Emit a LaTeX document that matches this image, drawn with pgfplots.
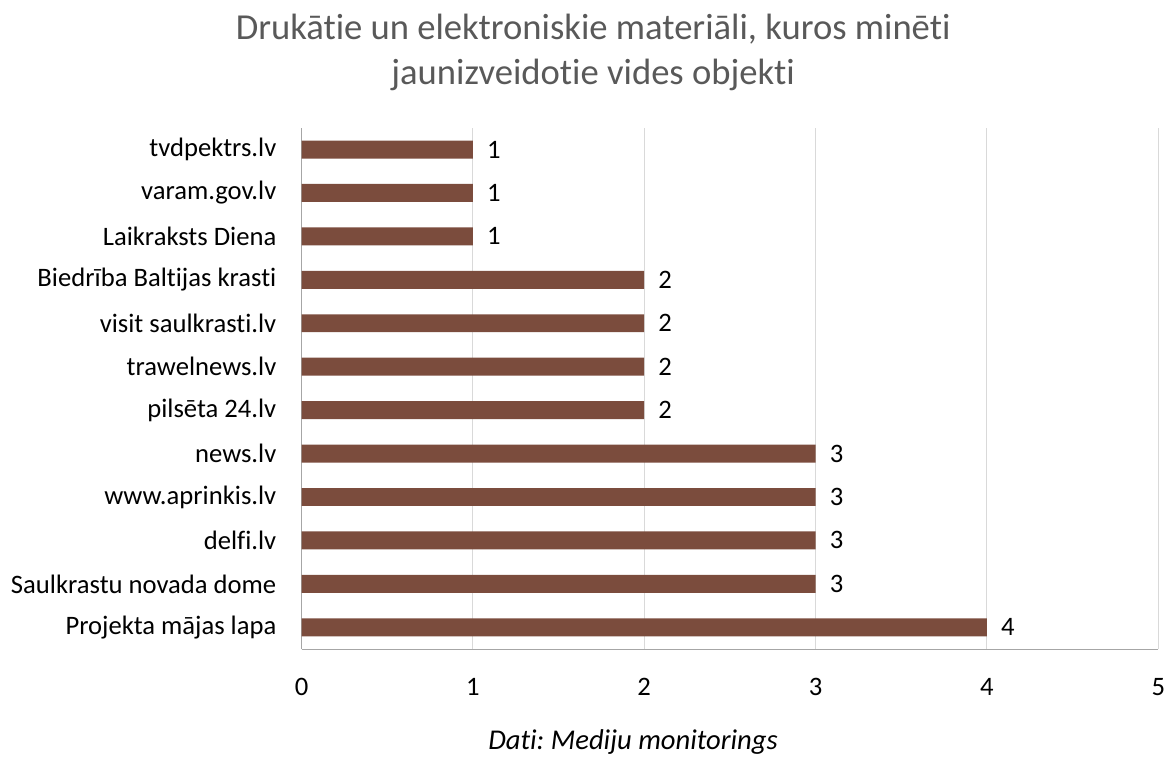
\documentclass[border=0pt]{standalone}
\usepackage{pgfplots}
\pgfplotsset{compat=1.18}
\usepackage{fontspec}
\setmainfont{Carlito}[Ligatures=NoCommon]
\definecolor{barc}{HTML}{7B4C3D}
\definecolor{gridc}{HTML}{D9D9D9}
\definecolor{axc}{HTML}{A6A6A6}
\definecolor{titc}{HTML}{595959}
\frenchspacing
\begin{document}
\begin{tikzpicture}
\path (-226.5pt,-81pt) rectangle (647.25pt,487.5pt);
\begin{axis}[
  at={(0pt,0pt)}, anchor=south west,
  scale only axis, width=643.5pt, height=391.5pt,
  xbar, bar width=13.5pt,
  xmin=0, xmax=5, ymin=-0.5, ymax=11.5,
  ytick={0,...,11},
  yticklabels={Projekta mājas lapa, Saulkrastu novada dome, delfi.lv, www.aprinkis.lv, news.lv, pilsēta 24.lv, trawelnews.lv, visit saulkrasti.lv, Biedrība Baltijas krasti, Laikraksts Diena, varam.gov.lv, tvdpektrs.lv},
  xtick={0,...,5},
  xmajorgrids, major grid style={gridc, line width=0.75pt},
  axis x line*=bottom, axis y line*=left,
  axis line style={axc, line width=0.75pt},
  major tick length=0pt,
  /pgf/number format/assume math mode=true,
  ticklabel style={font=\fontsize{20}{22}\selectfont, inner sep=0pt},
  yticklabel style={xshift=-18.75pt},
  xticklabel style={yshift=-22pt},
  nodes near coords,
  nodes near coords style={font=\fontsize{20}{22}\selectfont, inner sep=0pt, anchor=west, xshift=10.5pt, black},
]
\addplot[fill=barc, draw=none] coordinates {
(4,0) (3,1) (3,2) (3,3) (3,4) (2,5) (2,6) (2,7) (2,8) (1,9) (1,10) (1,11)
};
\end{axis}
\node[align=center, text=titc, font=\fontsize{27.5}{33.75}\selectfont] at (219pt,448pt) {Drukātie un elektroniskie materiāli, kuros minēti\\jaunizveidotie vides objekti};
\node[font=\fontsize{21.5}{23}\selectfont\itshape] at (249pt,-69.75pt) {Dati: Mediju monitorings};
\end{tikzpicture}
\end{document}
